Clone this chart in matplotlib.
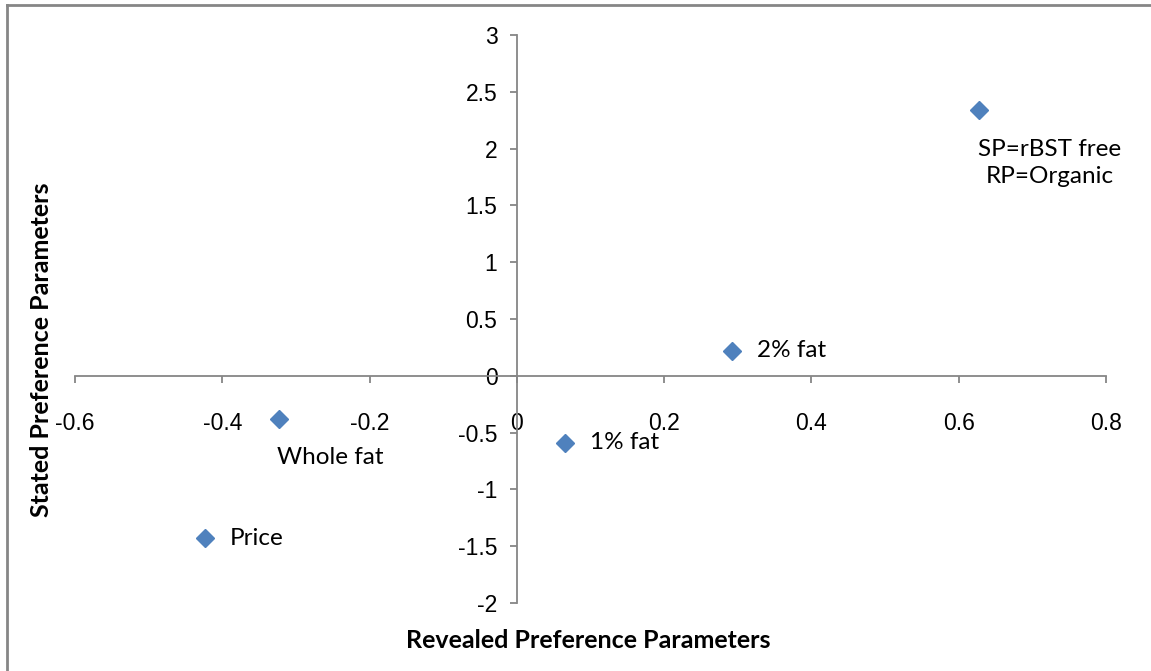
import matplotlib
matplotlib.use("Agg")
import matplotlib.pyplot as plt
from matplotlib.lines import Line2D

plt.rcParams['axes.unicode_minus'] = False

names = ["SP=rBST free\nRP=Organic", "2% fat", "1% fat", "Whole fat", "Price"]
rp_values = [0.627, 0.292, 0.065, -0.323, -0.424]
sp_values = [2.34, 0.22, -0.59, -0.38, -1.43]
# label offsets in points, (dx, dy, ha)
offsets = [(51, -38, 'center'), (18, 0, 'left'), (18, 0, 'left'),
           (37, -28, 'center'), (18, 0, 'left')]

x_ticks = [-0.6, -0.4, -0.2, 0, 0.2, 0.4, 0.6, 0.8]
y_ticks = [-2, -1.5, -1, -0.5, 0, 0.5, 1, 1.5, 2, 2.5, 3]

grey = '#868686'
blue = '#4F81BD'

fig = plt.figure(figsize=(11.51, 6.71), dpi=100)
ax = fig.add_axes([75 / 1151, 68 / 671, 1031 / 1151, 568 / 671])

ax.plot(rp_values, sp_values, linestyle='none', marker='D', markersize=9.5,
        color=blue, markeredgecolor=blue)

for name, x, y, (dx, dy, ha) in zip(names, rp_values, sp_values, offsets):
    ax.annotate(name, (x, y), xytext=(dx, dy), textcoords='offset points',
                ha=ha, va='center', fontsize=17.5, family='Lato',
                multialignment='center', linespacing=1.35)

ax.set_xlim(-0.6, 0.8)
ax.set_ylim(-2, 3)

# axes cross at the origin, Excel style
ax.spines['left'].set_position(('data', 0))
ax.spines['bottom'].set_position(('data', 0))
ax.spines['top'].set_visible(False)
ax.spines['right'].set_visible(False)
for s in ['left', 'bottom']:
    ax.spines[s].set_color(grey)
    ax.spines[s].set_linewidth(1.3)

ax.set_xticks(x_ticks)
ax.set_xticklabels([f"{v:g}" for v in x_ticks])
ax.set_yticks(y_ticks)
ax.set_yticklabels([f"{v:g}" for v in y_ticks])
ax.tick_params(axis='x', direction='out', length=5, width=1.3, color=grey,
               pad=21, labelsize=16.5)
ax.tick_params(axis='y', direction='out', length=5, width=1.3, color=grey,
               pad=9, labelsize=16.5)
for lab in ax.get_xticklabels() + ax.get_yticklabels():
    lab.set_family('Liberation Sans')

fig.text(588 / 1151, 1 - 640 / 671, "Revealed Preference Parameters",
         ha='center', va='center', fontsize=18, fontweight='bold', family='Lato')
fig.text(42 / 1151, 1 - 350 / 671, "Stated Preference Parameters",
         ha='center', va='center', rotation=90, fontsize=18, fontweight='bold',
         family='Lato')

# chart frame, only left and top edges fall inside the image
fig.add_artist(Line2D([7 / 1151, 7 / 1151], [0, 1 - 5 / 671], color=grey, lw=2))
fig.add_artist(Line2D([7 / 1151, 1], [1 - 5 / 671, 1 - 5 / 671], color=grey, lw=2))

fig.savefig("out.png", dpi=100)
